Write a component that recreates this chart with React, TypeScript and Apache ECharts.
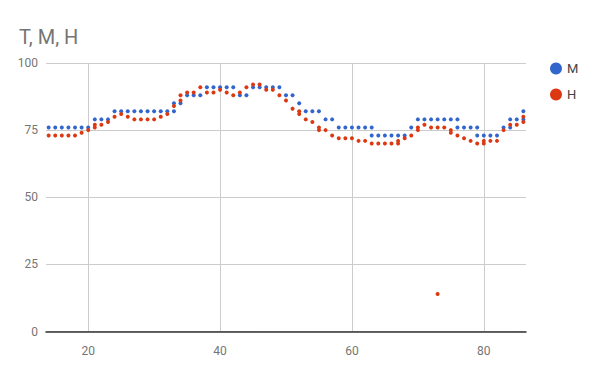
import React, { useEffect, useRef } from "react";
import * as echarts from "echarts";

const xValues = [
  14, 15, 16, 17, 18, 19, 20, 21, 22, 23, 24, 25, 26, 27, 28, 29, 30, 31, 32, 33,
  34, 35, 36, 37, 38, 39, 40, 41, 42, 43, 44, 45, 46, 47, 48, 49, 50, 51, 52, 53,
  54, 55, 56, 57, 58, 59, 60, 61, 62, 63, 64, 65, 66, 67, 68, 69, 70, 71, 72, 73,
  74, 75, 76, 77, 78, 79, 80, 81, 82, 83, 84, 85, 86,
];

const mValues = [
  76, 76, 76, 76, 76, 76, 76, 79, 79, 79, 82, 82, 82, 82, 82, 82, 82, 82, 82, 82,
  85, 88, 88, 88, 91, 91, 91, 91, 91, 88, 88, 91, 91, 91, 91, 91, 88, 88, 85, 82,
  82, 82, 79, 79, 76, 76, 76, 76, 76, 76, 73, 73, 73, 73, 73, 76, 79, 79, 79, 79,
  79, 79, 79, 76, 76, 76, 73, 73, 73, 76, 79, 79, 82,
];

const hValues = [
  73, 73, 73, 73, 73, 74, 75, 76, 77, 78, 80, 81, 80, 79, 79, 79, 79, 80, 81, 84,
  88, 89, 89, 91, 89, 89, 90, 89, 88, 89, 91, 92, 92, 90, 90, 88, 86, 83, 81, 79,
  78, 76, 75, 73, 72, 72, 72, 71, 71, 70, 70, 70, 70, 70, 72, 73, 76, 77, 76, 76,
  76, 75, 73, 72, 71, 70, 70, 71, 71, 75, 77, 77, 80,
];

// additional readings sharing an x value
const mExtra: [number, number][] = [
  [33, 85], [63, 73], [76, 76], [79, 73], [84, 76], [86, 79],
];
const hExtra: [number, number][] = [
  [21, 77], [34, 86], [52, 82], [55, 75], [67, 71], [70, 75], [75, 74], [80, 71], [86, 78],
  [73, 14],
];

const seriesNames = ["M", "H"];
const colors = ["#3366cc", "#dc3912"];

export default function App() {
  const ref = useRef<HTMLDivElement>(null);
  useEffect(() => {
    if (!ref.current) return;
    const chart = echarts.init(ref.current, null, { renderer: "svg" });
    const mData = xValues.map((x, i) => [x, mValues[i]]).concat(mExtra);
    const hData = xValues.map((x, i) => [x, hValues[i]]).concat(hExtra);
    chart.setOption({
      animation: false,
      textStyle: { fontFamily: "Roboto" },
      title: {
        text: "T, M, H",
        left: 14,
        top: 22,
        textStyle: { color: "#757575", fontSize: 20, fontWeight: "normal", fontFamily: "Roboto" },
      },
      legend: {
        orient: "vertical",
        left: 545,
        top: 57,
        itemWidth: 12,
        itemHeight: 12,
        itemGap: 13,
        icon: "circle",
        data: seriesNames,
        textStyle: { color: "#444", fontSize: 13, fontFamily: "Roboto" },
      },
      grid: { left: 46, right: 74, top: 63, bottom: 39.5, containLabel: false },
      xAxis: {
        type: "value",
        min: 13.6,
        max: 86.4,
        splitNumber: 4,
        axisLine: { show: true, lineStyle: { color: "#333", width: 1.5 } },
        axisTick: { show: false },
        axisLabel: {
          color: "#757575",
          fontSize: 12,
          margin: 13,
          showMinLabel: false,
          showMaxLabel: false,
        },
        splitLine: { show: true, showMinLine: false, showMaxLine: false, lineStyle: { color: "#cccccc" } },
      },
      yAxis: {
        type: "value",
        min: 0,
        max: 100,
        interval: 25,
        axisLine: { show: false },
        axisTick: { show: false },
        axisLabel: { color: "#757575", fontSize: 12, margin: 8 },
        splitLine: { show: true, lineStyle: { color: "#cccccc" } },
      },
      series: [
        {
          name: seriesNames[0],
          type: "scatter",
          data: mData,
          symbolSize: 4,
          itemStyle: { color: colors[0], opacity: 1 },
        },
        {
          name: seriesNames[1],
          type: "scatter",
          data: hData,
          symbolSize: 4,
          itemStyle: { color: colors[1], opacity: 1 },
        },
      ],
    });
    return () => chart.dispose();
  }, []);
  return <div ref={ref} style={{ width: 600, height: 371, position: "absolute", left: 0, top: 0 }} />;
}
